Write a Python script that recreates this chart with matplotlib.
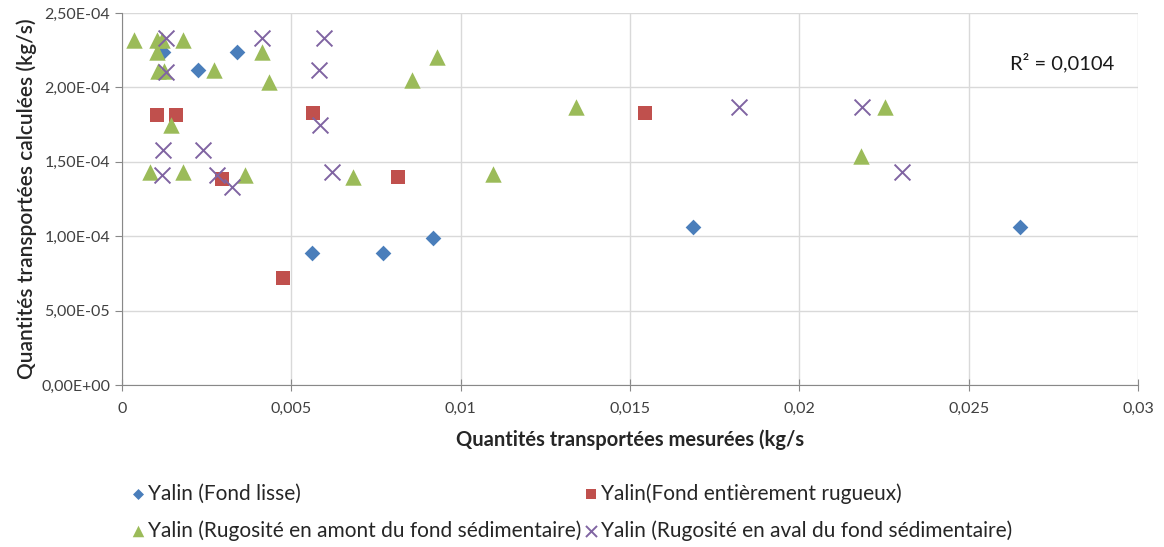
"""
    Yalin: quantités calculées vs mesurées
"""

import matplotlib.pyplot as plt

plt.rcParams["font.family"] = ["Lato", "DejaVu Sans"]

# Yalin (Fond lisse)
lisse_x = [0.00121, 0.00224, 0.00340, 0.00561, 0.00771, 0.00918, 0.01686, 0.02652]
lisse_y = [2.24e-4, 2.12e-4, 2.24e-4, 8.87e-5, 8.87e-5, 9.88e-5, 1.062e-4, 1.062e-4]

# Yalin (Fond entièrement rugueux)
rugueux_x = [0.00103, 0.00159, 0.00295, 0.00475, 0.00564, 0.00815, 0.01544]
rugueux_y = [1.815e-4, 1.815e-4, 1.384e-4, 7.19e-5, 1.828e-4, 1.398e-4, 1.828e-4]

# Yalin (Rugosité en amont du fond sédimentaire)
amont_x = [0.00035, 0.00103, 0.00118, 0.00180, 0.00103, 0.00106, 0.00124,
           0.00272, 0.00413, 0.00434, 0.00145, 0.00083, 0.00180, 0.00363,
           0.00682, 0.00856, 0.00930, 0.01095, 0.01340, 0.02182, 0.02253]
amont_y = [2.319e-4, 2.319e-4, 2.319e-4, 2.319e-4, 2.238e-4, 2.11e-4, 2.11e-4,
           2.117e-4, 2.238e-4, 2.036e-4, 1.747e-4, 1.431e-4, 1.431e-4, 1.411e-4,
           1.398e-4, 2.05e-4, 2.204e-4, 1.418e-4, 1.868e-4, 1.539e-4, 1.868e-4]

# Yalin (Rugosité en aval du fond sédimentaire)
aval_x = [0.00130, 0.00413, 0.00597, 0.00130, 0.00582, 0.00585, 0.00121,
          0.00239, 0.00118, 0.00281, 0.00325, 0.00620, 0.01822, 0.02185, 0.02303]
aval_y = [2.332e-4, 2.332e-4, 2.332e-4, 2.103e-4, 2.117e-4, 1.747e-4, 1.579e-4,
          1.579e-4, 1.411e-4, 1.411e-4, 1.331e-4, 1.431e-4, 1.868e-4, 1.868e-4, 1.431e-4]

x_ticks = [0, 0.005, 0.01, 0.015, 0.02, 0.025, 0.03]
x_labels = ["0", "0,005", "0,01", "0,015", "0,02", "0,025", "0,03"]
y_ticks = [0, 5e-5, 1e-4, 1.5e-4, 2e-4, 2.5e-4]
y_labels = ["0,00E+00", "5,00E-05", "1,00E-04", "1,50E-04", "2,00E-04", "2,50E-04"]

fig = plt.figure(figsize=(11.64, 5.47), dpi=100)
ax = fig.add_axes([0.1048, 0.2962, 0.8729, 0.68])

h1 = ax.scatter(lisse_x, lisse_y, s=64, c="#4A7EBB", marker="D", linewidths=0,
                label="Yalin (Fond lisse)", zorder=3)
h2 = ax.scatter(rugueux_x, rugueux_y, s=112, c="#C0504D", marker="s", linewidths=0,
                label="Yalin(Fond entièrement rugueux)", zorder=3)
h3 = ax.scatter(amont_x, amont_y, s=140, c="#9BBB59", marker="^", linewidths=0,
                label="Yalin (Rugosité en amont du fond sédimentaire)", zorder=3)
h4 = ax.scatter(aval_x, aval_y, s=130, c="#8064A2", marker="x", linewidths=1.4,
                label="Yalin (Rugosité en aval du fond sédimentaire)", zorder=3)

ax.set_xlim(0, 0.03)
ax.set_ylim(0, 2.5e-4)
ax.set_xticks(x_ticks)
ax.set_xticklabels(x_labels)
ax.set_yticks(y_ticks)
ax.set_yticklabels(y_labels)
ax.tick_params(axis="x", direction="inout", length=8, colors="#888888",
               labelcolor="#404040", labelsize=11.5, pad=8)
ax.tick_params(axis="y", direction="out", length=5, colors="#888888",
               labelcolor="#404040", labelsize=11.5)
ax.grid(True, color="#D9D9D9", linewidth=1.0, zorder=0)
ax.set_axisbelow(True)
for side in ["top", "right"]:
    ax.spines[side].set_visible(False)
for side in ["left", "bottom"]:
    ax.spines[side].set_color("#888888")

ax.set_xlabel("Quantités transportées mesurées (kg/s", fontsize=14.5, fontweight="bold",
              color="#262626", labelpad=10)
ax.set_ylabel("Quantités transportées calculées (kg/s)", fontsize=15, fontweight="semibold",
              color="#262626", labelpad=3)

ax.text(0.02776, 2.17e-4, "R² = 0,0104", fontsize=14.5, ha="center", va="center",
        color="#1a1a1a")

fig.legend(handles=[h1, h3, h2, h4], ncol=2, loc="upper left",
           bbox_to_anchor=(0.103, 0.132), frameon=False, fontsize=15,
           handletextpad=0.05, columnspacing=0.0, labelspacing=0.78,
           handlelength=0.9, markerscale=0.7, labelcolor="#262626", borderaxespad=0)

plt.savefig("out.png", dpi=100)
